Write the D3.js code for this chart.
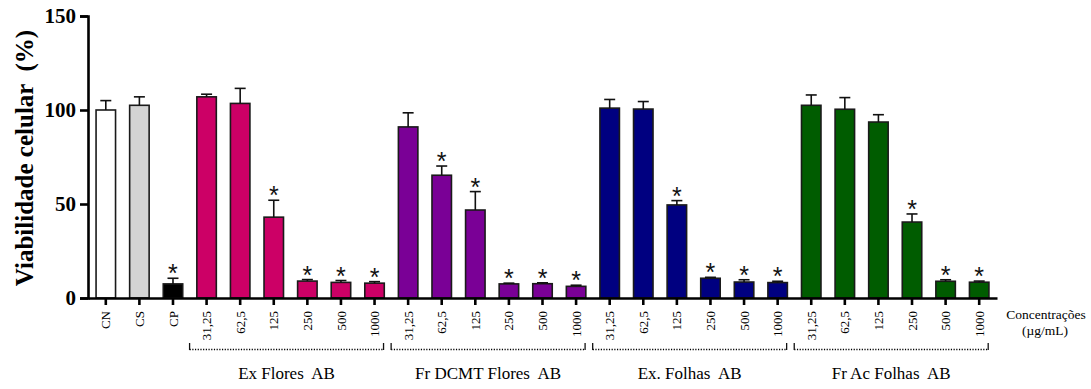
<!DOCTYPE html>
<html>
<head>
<meta charset="utf-8">
<script src="https://cdn.jsdelivr.net/npm/d3@7"></script>
<style>
  body { margin: 0; background: #fff; }
  svg { display: block; }
  svg text { font-family: "Liberation Serif", "Times New Roman", Times, "DejaVu Serif", serif; }
</style>
</head>
<body>
<svg id="chart"></svg>
<script>
const categories = ["CN", "CS", "CP",
  "31,25", "62,5", "125", "250", "500", "1000",
  "31,25", "62,5", "125", "250", "500", "1000",
  "31,25", "62,5", "125", "250", "500", "1000",
  "31,25", "62,5", "125", "250", "500", "1000"];
const means = [100, 102.5, 7.5,
  107, 103.5, 43, 9, 8.3, 7.9,
  91, 65.3, 46.8, 7.5, 7.6, 6.2,
  101, 100.5, 49.5, 10.5, 8.5, 8.2,
  102.5, 100.4, 93.6, 40.4, 8.9, 8.4];
const errors = [5, 4.5, 3,
  1.4, 8, 9, 0.8, 1, 0.8,
  7.5, 4.9, 9.8, 0.4, 0.5, 0.6,
  4.6, 4, 2.3, 0.5, 1.2, 0.7,
  5.5, 6.2, 3.9, 4.3, 0.8, 0.6];
const stars = [0, 0, 1,
  0, 0, 1, 1, 1, 1,
  0, 1, 1, 1, 1, 1,
  0, 0, 1, 1, 1, 1,
  0, 0, 0, 1, 1, 1];
const barColors = ["#ffffff", "#d3d3d3", "#000000",
  "#cc0066", "#cc0066", "#cc0066", "#cc0066", "#cc0066", "#cc0066",
  "#7a0096", "#7a0096", "#7a0096", "#7a0096", "#7a0096", "#7a0096",
  "#000080", "#000080", "#000080", "#000080", "#000080", "#000080",
  "#005c00", "#005c00", "#005c00", "#005c00", "#005c00", "#005c00"];
const groups = [
  {name: "Ex Flores  AB", first: 3, last: 8},
  {name: "Fr DCMT Flores  AB", first: 9, last: 14},
  {name: "Ex. Folhas  AB", first: 15, last: 20},
  {name: "Fr Ac Folhas  AB", first: 21, last: 26},
];
const yTicks = [0, 50, 100, 150];

const SIZE = {width: 1091, height: 389};
const SERIF = "'Liberation Serif', 'Times New Roman', Times, 'DejaVu Serif', serif";

const svg = d3.select("svg#chart").attr("width", SIZE.width).attr("height", SIZE.height);

const x = d3.scaleBand().domain(d3.range(categories.length))
  .range([88, 997]).paddingInner(0.42).paddingOuter(0.24);
const y = d3.scaleLinear().domain([0, 150]).range([298, 16]);
const cx = i => x(i) + x.bandwidth() / 2;

// bars
svg.append("g").selectAll("rect").data(means).enter().append("rect")
  .attr("x", (d, i) => x(i))
  .attr("y", d => y(d))
  .attr("width", x.bandwidth())
  .attr("height", d => y(0) - y(d))
  .attr("fill", (d, i) => barColors[i])
  .attr("stroke", "#1a1a1a")
  .attr("stroke-width", 1.6);

// error bars, upper half only
const eb = svg.append("g").attr("stroke", "#111").attr("stroke-width", 1.6);
means.forEach((m, i) => {
  const top = y(m + errors[i]);
  eb.append("line").attr("x1", cx(i)).attr("x2", cx(i)).attr("y1", y(m)).attr("y2", top);
  eb.append("line").attr("x1", cx(i) - 5.5).attr("x2", cx(i) + 5.5).attr("y1", top).attr("y2", top);
});

// significance stars
const sg = svg.append("g");
means.forEach((m, i) => {
  if (!stars[i]) return;
  sg.append("text")
    .attr("x", cx(i))
    .attr("y", y(m + errors[i]) + 4)
    .attr("text-anchor", "middle")
    .style("font-family", "'Liberation Sans', Arial, sans-serif")
    .style("font-size", "25px")
    .attr("fill", "#111")
    .text("*");
});

// y axis
const yAxis = d3.axisLeft(y).tickValues(yTicks).tickSize(8).tickPadding(4).tickFormat(d3.format("d"));
const yG = svg.append("g").attr("transform", "translate(88,0)").call(yAxis);
yG.attr("font-family", null);
yG.select(".domain").attr("stroke", "#000").attr("stroke-width", 2.6);
yG.selectAll(".tick line").attr("stroke", "#000").attr("stroke-width", 2.6);
yG.selectAll(".tick text").attr("fill", "#000")
  .style("font-family", SERIF)
  .style("font-size", "21px").style("font-weight", "bold");

// x axis
const xAxis = d3.axisBottom(x).tickSize(7).tickSizeOuter(0).tickFormat(i => categories[i]);
const xG = svg.append("g").attr("transform", "translate(0,298)").call(xAxis);
xG.attr("font-family", null);
xG.select(".domain").attr("stroke", "#000").attr("stroke-width", 2.6);
xG.selectAll(".tick line").attr("stroke", "#000").attr("stroke-width", 2.6);
xG.selectAll(".tick text")
  .attr("fill", "#000")
  .attr("transform", "rotate(-90)")
  .attr("text-anchor", "end")
  .attr("x", -13)
  .attr("y", 0)
  .attr("dy", "0.35em")
  .style("font-family", SERIF)
  .style("font-size", "13px");

// group brackets
const br = svg.append("g");
groups.forEach(g => {
  const x0 = cx(g.first) - 17;
  const x1 = cx(g.last) + 9;
  br.append("line").attr("x1", x0).attr("x2", x1).attr("y1", 349.5).attr("y2", 349.5)
    .attr("stroke", "#000").attr("stroke-width", 1.3).attr("stroke-dasharray", "1.2,1.5");
  br.append("line").attr("x1", x0).attr("x2", x0).attr("y1", 343).attr("y2", 350)
    .attr("stroke", "#111").attr("stroke-width", 1.3);
  br.append("line").attr("x1", x1).attr("x2", x1).attr("y1", 343).attr("y2", 350)
    .attr("stroke", "#111").attr("stroke-width", 1.3);
  br.append("text").attr("x", (x0 + x1) / 2).attr("y", 379)
    .attr("text-anchor", "middle")
    .style("font-family", SERIF)
    .style("font-size", "17px").style("white-space", "pre")
    .text(g.name);
});

// concentration note
svg.append("text").attr("x", 1046).attr("y", 318.5).attr("text-anchor", "middle")
  .style("font-family", SERIF).style("font-size", "13.5px").text("Concentrações");
svg.append("text").attr("x", 1045).attr("y", 334.5).attr("text-anchor", "middle")
  .style("font-family", SERIF).style("font-size", "13.5px").text("(µg/mL)");

// y title
svg.append("text")
  .attr("transform", "translate(33,158) rotate(-90)")
  .attr("text-anchor", "middle")
  .style("font-family", SERIF)
  .style("font-size", "25px").style("font-weight", "bold").style("white-space", "pre")
  .text("Viabilidade celular  (%)");
</script>
</body>
</html>
